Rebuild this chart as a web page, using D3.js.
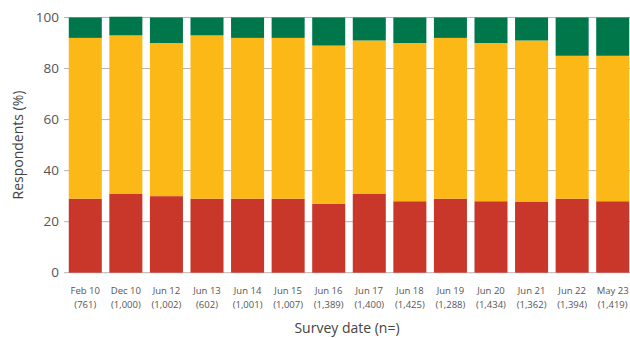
<!DOCTYPE html>
<html>
<head>
<meta charset="utf-8">
<script src="https://cdn.jsdelivr.net/npm/d3@7"></script>
<style>
  html, body { margin: 0; padding: 0; background: #fff; }
  svg { display: block; font-family: "Open Sans", sans-serif; }
</style>
</head>
<body>
<svg id="chart" width="630" height="338"></svg>
<script>
// Survey rounds
const surveyDates = ['Feb 10', 'Dec 10', 'Jun 12', 'Jun 13', 'Jun 14', 'Jun 15', 'Jun 16',
  'Jun 17', 'Jun 18', 'Jun 19', 'Jun 20', 'Jun 21', 'Jun 22', 'May 23'];
const sampleSizes = ['761', '1,000', '1,002', '602', '1,001', '1,007', '1,389',
  '1,400', '1,425', '1,288', '1,434', '1,362', '1,394', '1,419'];

// Share of respondents (%) per segment, bottom to top
const redShare = [29, 31, 30, 29, 29, 29, 27, 31, 28, 29, 28, 27.7, 29, 28];
const amberShare = [63, 62, 60, 64, 63, 63, 62, 60, 62, 63, 62, 63.3, 56, 57];
const greenShare = [8, 7.3, 10, 7, 8, 8, 11, 9, 10, 8, 10, 9, 15, 15];

const yTicks = [0, 20, 40, 60, 80, 100];

const colors = {
  red: '#c9372a',
  amber: '#fbb817',
  green: '#00774b'
};

const svg = d3.select('#chart');
const margin = { top: 17.5, bottom: 65.3, left: 64, right: 0 };
const width = 630;
const height = 338;

// Build rows for the stack
const rows = surveyDates.map((d, i) => ({
  date: d,
  n: sampleSizes[i],
  red: redShare[i],
  amber: amberShare[i],
  green: greenShare[i]
}));

const stack = d3.stack().keys(['red', 'amber', 'green'])(rows);

const x = d3.scaleBand()
  .domain(surveyDates)
  .range([65, 633])
  .paddingInner(0.186)
  .paddingOuter(0.093);

const y = d3.scaleLinear()
  .domain([0, 100])
  .range([height - margin.bottom, margin.top]);

// Gridlines
svg.append('g')
  .selectAll('line')
  .data(yTicks)
  .join('line')
  .attr('x1', margin.left)
  .attr('x2', width)
  .attr('y1', d => y(d))
  .attr('y2', d => y(d))
  .attr('stroke', '#b5b5b5')
  .attr('stroke-width', 1);

// Y tick labels
svg.append('g')
  .attr('text-anchor', 'end')
  .attr('fill', '#555')
  .style('font-size', '13.5px')
  .selectAll('text')
  .data(yTicks)
  .join('text')
  .attr('x', margin.left - 5)
  .attr('y', d => y(d))
  .attr('dy', '0.35em')
  .text(d => d);

// Bars
svg.append('g')
  .selectAll('g')
  .data(stack)
  .join('g')
  .attr('fill', d => colors[d.key])
  .selectAll('rect')
  .data(d => d)
  .join('rect')
  .attr('x', d => x(d.data.date))
  .attr('y', d => y(d[1]))
  .attr('width', x.bandwidth())
  .attr('height', d => y(d[0]) - y(d[1]));

// X labels: date and sample size
const xLabels = svg.append('g')
  .attr('text-anchor', 'middle')
  .attr('fill', '#555')
  .style('font-size', '9.5px')
  .selectAll('text')
  .data(rows)
  .join('text')
  .attr('x', d => x(d.date) + x.bandwidth() / 2);

xLabels.append('tspan')
  .attr('y', 293.5)
  .text(d => d.date);

xLabels.append('tspan')
  .attr('x', d => x(d.date) + x.bandwidth() / 2)
  .attr('y', 307.5)
  .text(d => `(${d.n})`);

// Axis titles
svg.append('text')
  .attr('x', 347)
  .attr('y', 333)
  .attr('text-anchor', 'middle')
  .attr('fill', '#444')
  .style('font-size', '14px')
  .text('Survey date (n=)');

svg.append('text')
  .attr('transform', 'translate(23,145) rotate(-90)')
  .attr('text-anchor', 'middle')
  .attr('fill', '#444')
  .style('font-size', '14px')
  .text('Respondents (%)');
</script>
</body>
</html>
